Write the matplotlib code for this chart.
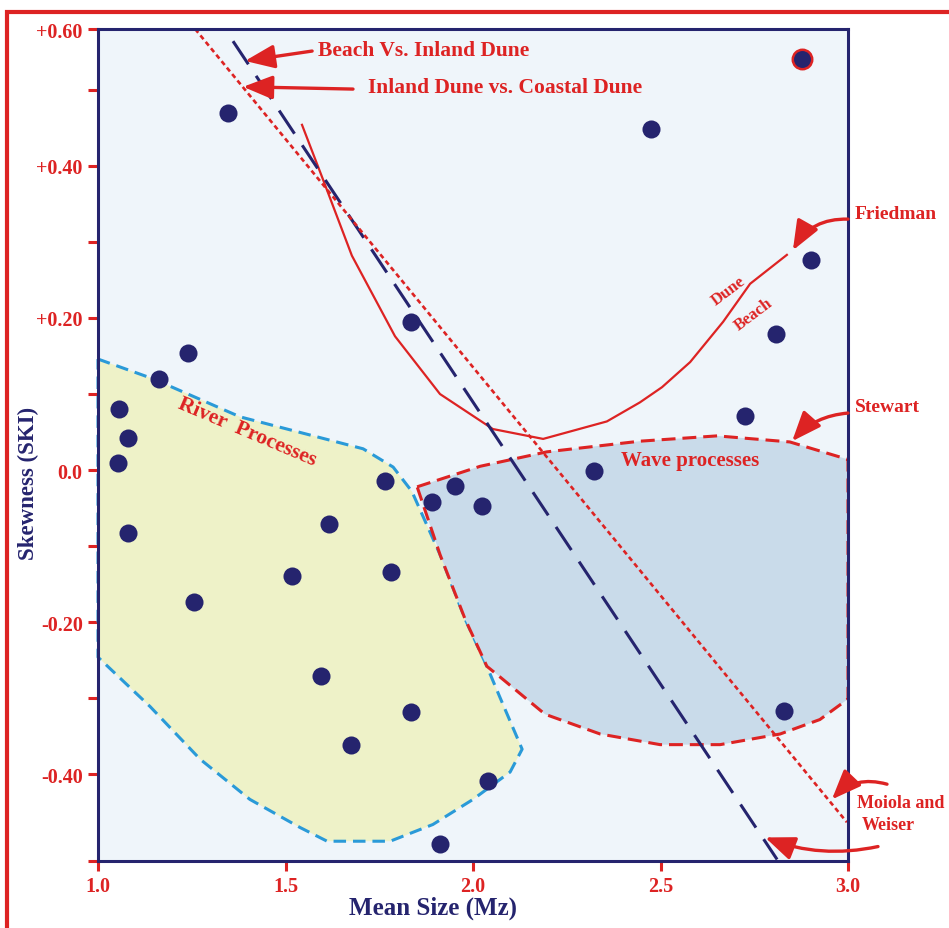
import matplotlib
matplotlib.use('Agg')
import matplotlib.pyplot as plt
from matplotlib.patches import Polygon, Rectangle

plt.rcParams['font.family'] = ['Liberation Serif', 'DejaVu Serif']
plt.rcParams['font.weight'] = 'bold'
plt.rcParams['lines.scale_dashes'] = False

RED = '#dd2323'
NAVY = '#25246e'
BLUE = '#2a9ad8'

# ---- data ----
mean_size = [1.347, 2.475, 2.901, 2.808, 2.725, 2.323, 1.835, 1.240, 1.163, 1.056,
             1.080, 1.053, 1.080, 1.256, 1.616, 1.517, 1.765, 1.781, 1.595, 1.675,
             1.835, 1.891, 1.952, 2.024, 2.040, 1.912, 2.829]
skewness = [0.470, 0.449, 0.276, 0.179, 0.071, -0.001, 0.195, 0.154, 0.120, 0.080,
            0.042, 0.009, -0.083, -0.174, -0.071, -0.139, -0.014, -0.134, -0.271, -0.362,
            -0.318, -0.042, -0.021, -0.047, -0.409, -0.492, -0.317]
highlight_x = [2.877]
highlight_y = [0.541]

friedman_x = [1.544, 1.597, 1.677, 1.792, 1.912, 2.053, 2.187, 2.357, 2.445, 2.504,
              2.579, 2.667, 2.739, 2.837]
friedman_y = [0.454, 0.386, 0.282, 0.176, 0.100, 0.054, 0.041, 0.064, 0.089, 0.109,
              0.142, 0.195, 0.245, 0.283]

beach_inland_x = [1.360, 2.811]
beach_inland_y = [0.564, -0.512]
inland_coastal_x = [1.259, 2.997]
inland_coastal_y = [0.580, -0.463]

river_x = [1.0, 1.147, 1.379, 1.707, 1.787, 1.837, 1.912, 1.979, 2.037, 2.072, 2.131,
           2.099, 2.0, 1.893, 1.779, 1.611, 1.539, 1.405, 1.272, 1.139, 1.0]
river_y = [0.146, 0.120, 0.070, 0.028, 0.004, -0.028, -0.111, -0.196, -0.258, -0.299,
           -0.367, -0.397, -0.433, -0.466, -0.488, -0.488, -0.470, -0.433, -0.380,
           -0.311, -0.246]

wave_x = [1.851, 2.019, 2.197, 2.445, 2.651, 2.845, 3.0, 3.0, 2.925, 2.819, 2.659,
          2.499, 2.339, 2.192, 2.072, 2.037, 1.979, 1.912]
wave_y = [-0.022, 0.005, 0.024, 0.038, 0.045, 0.037, 0.014, -0.301, -0.328, -0.347,
          -0.361, -0.361, -0.347, -0.321, -0.272, -0.258, -0.196, -0.111]

xtick_vals = [1.0, 1.5, 2.0, 2.5, 3.0]
xtick_labels = ['1.0', '1.5', '2.0', '2.5', '3.0']
ytick_vals = [-0.4, -0.2, 0.0, 0.2, 0.4, 0.58]
ytick_labels = ['-0.40', '-0.20', '0.0', '+0.20', '+0.40', '+0.60']
ytick_minor = [-0.514, -0.3, -0.1, 0.1, 0.3, 0.5]

# ---- figure ----
W, H = 949, 929
fig = plt.figure(figsize=(W / 100, H / 100), dpi=100)
fig.patch.set_facecolor('white')
ax = fig.add_axes([98 / W, (H - 862) / H, 750 / W, 832 / H])
ax.set_facecolor('#eff5fa')
ax.set_xlim(1.0, 3.0)
ax.set_ylim(-0.514, 0.580)

# regions
ax.add_patch(Polygon(list(zip(river_x, river_y)), closed=True, facecolor='#eef2c8',
                     edgecolor='none', zorder=1))
ax.plot(river_x + [river_x[0]], river_y + [river_y[0]], color=BLUE, lw=2.2,
        dashes=[9, 5], zorder=2, clip_on=False)
ax.add_patch(Polygon(list(zip(wave_x, wave_y)), closed=True, facecolor='#c9dbea',
                     edgecolor='none', zorder=3))
ax.plot(wave_x + [wave_x[0]], wave_y + [wave_y[0]], color=RED, lw=2.2,
        dashes=[10, 5], zorder=4, clip_on=False)

# boundary lines
ax.plot(friedman_x, friedman_y, color=RED, lw=1.6, zorder=5)
ax.plot(beach_inland_x, beach_inland_y, color=NAVY, lw=2.2, dashes=[20, 10], zorder=5)
ax.plot(inland_coastal_x, inland_coastal_y, color=RED, lw=1.9, dashes=[3.5, 2.5], zorder=5)

# points
ax.plot(mean_size, skewness, 'o', color=NAVY, markersize=13, markeredgewidth=0, zorder=6)
ax.plot(highlight_x, highlight_y, 'o', color=NAVY, markersize=14, markeredgecolor=RED,
        markeredgewidth=1.8, zorder=6)

# axes styling
for s in ax.spines.values():
    s.set_color(NAVY)
    s.set_linewidth(2.2)
    s.set_zorder(7)
ax.set_xticks(xtick_vals)
ax.set_xticklabels(xtick_labels)
ax.set_yticks(ytick_vals)
ax.set_yticklabels(ytick_labels)
ax.set_yticks(ytick_minor, minor=True)
ax.tick_params(axis='both', which='both', direction='out', length=7, width=2.2,
               color=RED, labelcolor=RED, labelsize=14.5, pad=4)
for lab in ax.get_xticklabels() + ax.get_yticklabels():
    lab.set_fontweight('bold')

# axis labels
fig.text(28 / W, 1 - 483 / H, 'Skewness (SKI)', rotation=90, ha='center', va='center',
         color=NAVY, fontsize=16.5, fontweight='bold')
fig.text(433 / W, 1 - 908 / H, 'Mean Size (Mz)', ha='center', va='center',
         color=NAVY, fontsize=18, fontweight='bold')

# region labels
ax.text(1.397, 0.051, 'River  Processes', rotation=-23, ha='center', va='center',
        color=RED, fontsize=15.5, fontweight='bold', zorder=8)
ax.text(2.579, 0.013, 'Wave processes', ha='center', va='center',
        color=RED, fontsize=15, fontweight='bold', zorder=8)
ax.text(2.680, 0.236, 'Dune', rotation=37, ha='center', va='center',
        color=RED, fontsize=12, fontweight='bold', zorder=8)
ax.text(2.748, 0.205, 'Beach', rotation=37, ha='center', va='center',
        color=RED, fontsize=12, fontweight='bold', zorder=8)

# annotations
txt = dict(color=RED, fontsize=15.5, fontweight='bold', va='center', ha='left',
           clip_on=False, zorder=9)
ax.text(1.587, 0.553, 'Beach Vs. Inland Dune', **txt)
ax.text(1.720, 0.504, 'Inland Dune vs. Coastal Dune', **txt)
side = dict(txt, fontsize=14)
ax.text(3.019, 0.337, 'Friedman', **side)
ax.text(3.019, 0.083, 'Stewart', **side)
moi = dict(txt, fontsize=13)
ax.text(3.024, -0.437, 'Moiola and', **moi)
ax.text(3.037, -0.466, 'Weiser', **moi)


def arrow(start, tip, rad):
    ax.annotate('', xy=tip, xytext=start, annotation_clip=False, zorder=9,
                arrowprops=dict(arrowstyle='-|>,head_length=1.0,head_width=0.4',
                                color=RED, lw=2.4, mutation_scale=18,
                                shrinkA=0, shrinkB=0,
                                connectionstyle=f'arc3,rad={rad}'))


arrow((1.571, 0.551), (1.392, 0.538), 0.0)
arrow((1.680, 0.501), (1.387, 0.504), 0.0)
arrow((3.000, 0.330), (2.853, 0.289), 0.3)
arrow((3.000, 0.075), (2.851, 0.038), 0.2)
arrow((3.104, -0.413), (2.957, -0.433), 0.3)
arrow((3.080, -0.495), (2.779, -0.483), -0.15)

# outer red frame
fig.patches.append(Rectangle((7 / W, -0.2), 1.5, 1 - 13 / H + 0.2, transform=fig.transFigure,
                             fill=False, edgecolor=RED, lw=3, zorder=0))

fig.savefig('out.png', dpi=100)
